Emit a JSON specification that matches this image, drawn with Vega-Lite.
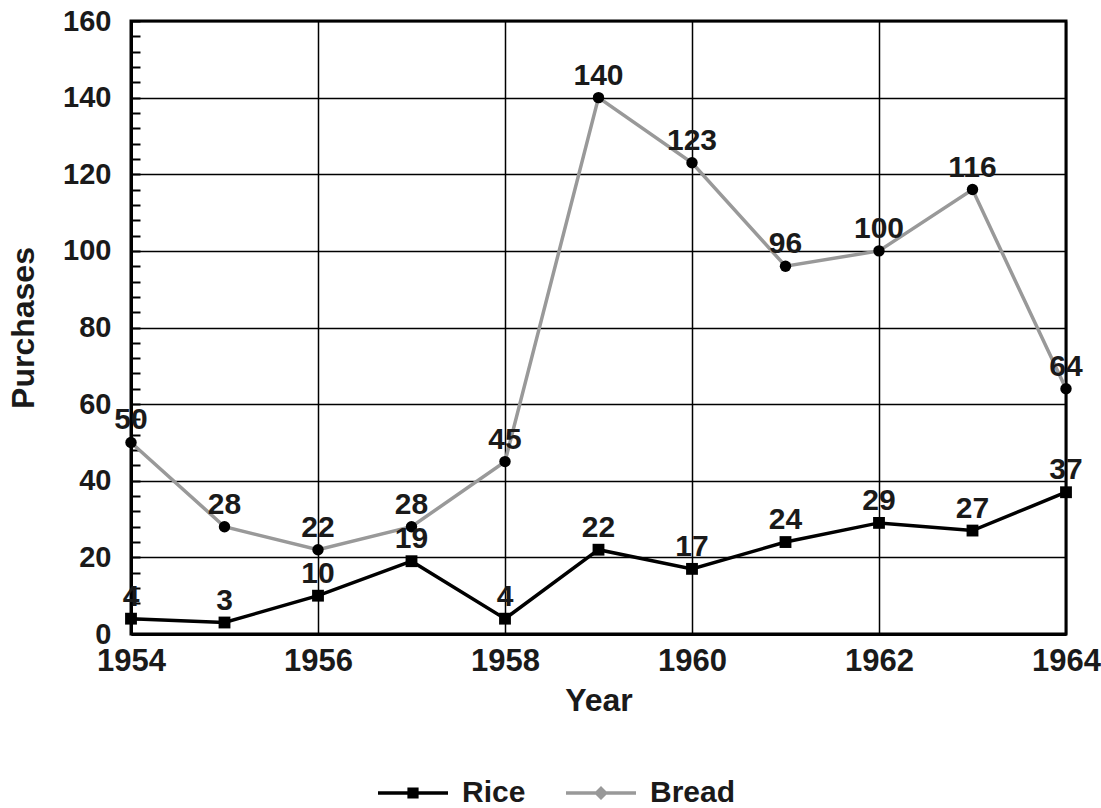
{
  "$schema": "https://vega.github.io/schema/vega-lite/v6.json",
  "width": 935,
  "height": 613,
  "autosize": {"type": "none"},
  "padding": {"left": 131, "top": 21, "right": 35, "bottom": 174},
  "background": "white",
  "config": {
    "font": "Liberation Sans",
    "view": {"stroke": "black", "strokeWidth": 3},
    "axis": {
      "labelFont": "Liberation Sans",
      "labelFontWeight": "bold",
      "labelFontSize": 29,
      "labelColor": "#1a1a1a",
      "titleFont": "Liberation Sans",
      "titleFontWeight": "bold",
      "titleFontSize": 32,
      "titleColor": "#1a1a1a",
      "gridColor": "black",
      "gridWidth": 1.5,
      "gridOpacity": 1,
      "domainColor": "black",
      "domainWidth": 3,
      "ticks": false
    }
  },
  "data": {
    "values": [
      {"year": 1954, "series": "Rice", "value": 4},
      {"year": 1955, "series": "Rice", "value": 3},
      {"year": 1956, "series": "Rice", "value": 10},
      {"year": 1957, "series": "Rice", "value": 19},
      {"year": 1958, "series": "Rice", "value": 4},
      {"year": 1959, "series": "Rice", "value": 22},
      {"year": 1960, "series": "Rice", "value": 17},
      {"year": 1961, "series": "Rice", "value": 24},
      {"year": 1962, "series": "Rice", "value": 29},
      {"year": 1963, "series": "Rice", "value": 27},
      {"year": 1964, "series": "Rice", "value": 37},
      {"year": 1954, "series": "Bread", "value": 50},
      {"year": 1955, "series": "Bread", "value": 28},
      {"year": 1956, "series": "Bread", "value": 22},
      {"year": 1957, "series": "Bread", "value": 28},
      {"year": 1958, "series": "Bread", "value": 45},
      {"year": 1959, "series": "Bread", "value": 140},
      {"year": 1960, "series": "Bread", "value": 123},
      {"year": 1961, "series": "Bread", "value": 96},
      {"year": 1962, "series": "Bread", "value": 100},
      {"year": 1963, "series": "Bread", "value": 116},
      {"year": 1964, "series": "Bread", "value": 64}
    ]
  },
  "encoding": {
    "x": {
      "field": "year",
      "type": "quantitative",
      "scale": {"domain": [1954, 1964], "nice": false, "zero": false},
      "title": "Year"
    },
    "y": {
      "field": "value",
      "type": "quantitative",
      "scale": {"domain": [0, 160], "nice": false}
    }
  },
  "layer": [
    {
      "mark": {"type": "line", "strokeWidth": 3.5},
      "encoding": {
        "x": {
          "field": "year",
          "type": "quantitative",
          "axis": {"values": [1954, 1956, 1958, 1960, 1962, 1964], "format": "d", "labelFontSize": 31, "labelFlush": false, "labelPadding": 12, "titlePadding": 9, "grid": true}
        },
        "y": {
          "field": "value",
          "type": "quantitative",
          "title": "Purchases",
          "axis": {"orient": "left", "values": [0, 20, 40, 60, 80, 100, 120, 140, 160], "labelPadding": 20, "titlePadding": 22, "grid": true}
        },
        "color": {
          "field": "series",
          "type": "nominal",
          "scale": {"domain": ["Rice", "Bread"], "range": ["#000000", "#999999"]},
          "legend": {
            "orient": "none",
            "legendX": 247,
            "legendY": 737,
            "direction": "horizontal",
            "title": null,
            "labelFont": "Liberation Sans",
            "labelFontSize": 30,
            "labelFontWeight": "bold",
            "labelColor": "#1a1a1a",
            "symbolSize": 4900,
            "symbolStrokeWidth": 0,
            "columnPadding": 40,
            "labelOffset": 14,
            "encode": {
              "symbols": {
                "update": {
                  "shape": {"signal": "datum.value === 'Rice' ? 'M-1,-0.05H1V0.05H-1Z M-0.16,-0.16H0.16V0.16H-0.16Z' : 'M-1,-0.05H1V0.05H-1Z M0,-0.2L0.2,0L0,0.2L-0.2,0Z'"},
                  "fill": {"signal": "datum.value === 'Rice' ? '#000000' : '#999999'"},
                  "stroke": {"value": "transparent"},
                  "strokeWidth": {"value": 0}
                }
              }
            }
          }
        }
      }
    },
    {
      "transform": [{"filter": "datum.series === 'Rice'"}],
      "mark": {"type": "point", "shape": "square", "filled": true, "color": "black", "opacity": 1, "size": 140},
      "encoding": {
        "y": {
          "field": "value",
          "type": "quantitative",
          "axis": {"orient": "left", "values": [0,4,8,12,16,20,24,28,32,36,40,44,48,52,56,60,64,68,72,76,80,84,88,92,96,100,104,108,112,116,120,124,128,132,136,140,144,148,152,156,160], "labels": false, "grid": false, "domain": false, "ticks": true, "tickSize": -9, "tickColor": "black", "tickWidth": 2, "title": null}
        }
      }
    },
    {
      "transform": [{"filter": "datum.series === 'Bread'"}],
      "mark": {"type": "point", "shape": "circle", "filled": true, "color": "black", "opacity": 1, "size": 130},
      "encoding": {
        "y": {"field": "value", "type": "quantitative", "axis": null}
      }
    },
    {
      "mark": {"type": "text", "dy": -13, "baseline": "alphabetic", "fontSize": 30, "fontWeight": "bold", "font": "Liberation Sans", "color": "#1a1a1a"},
      "encoding": {
        "y": {"field": "value", "type": "quantitative", "axis": null},
        "text": {"field": "value", "type": "quantitative"}
      }
    }
  ],
  "resolve": {"axis": {"y": "independent"}}
}
